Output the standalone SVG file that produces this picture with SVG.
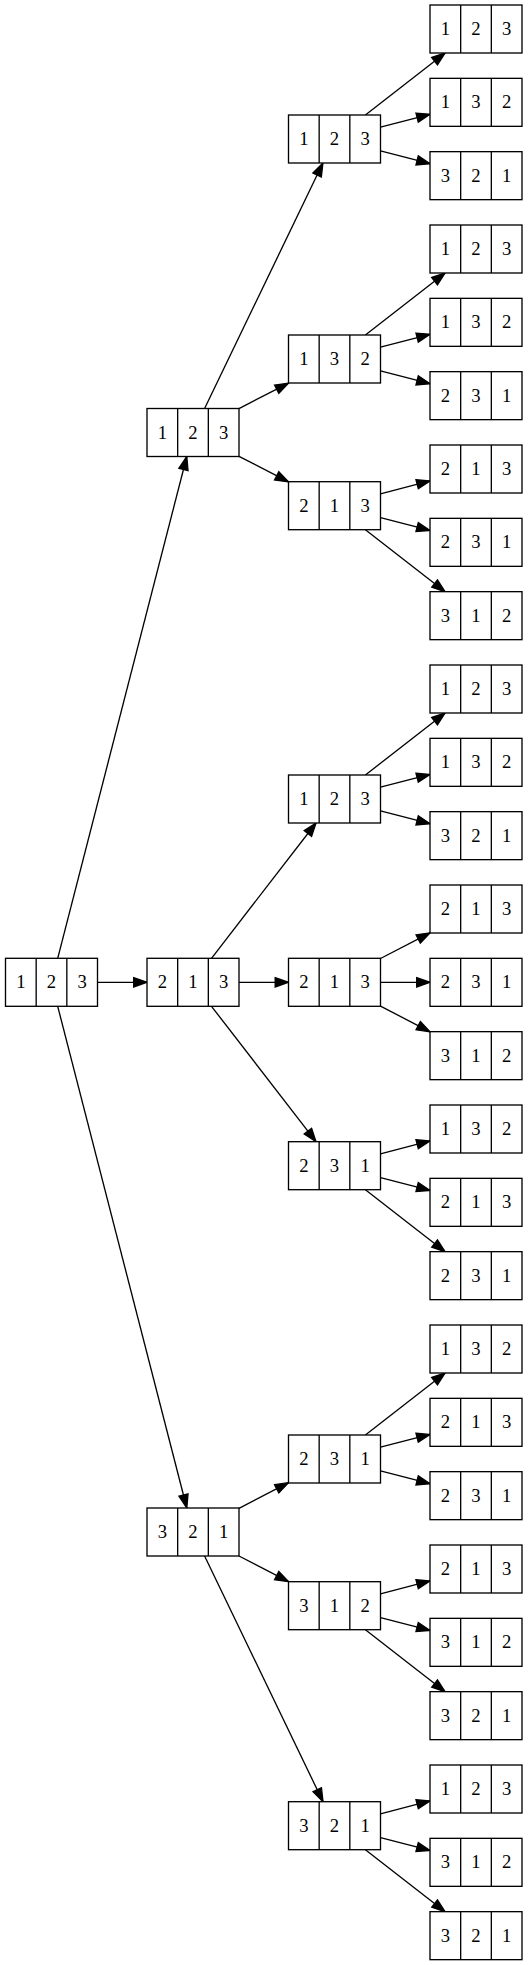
<svg xmlns="http://www.w3.org/2000/svg" width="528" height="1965" viewBox="0 0 528 1965">
<style>
.box{fill:#fff;stroke:#000;stroke-width:1.33}
.div{stroke:#000;stroke-width:1.33}
text{font-family:"Liberation Serif","Times New Roman",serif;font-size:18.67px;text-anchor:middle;fill:#000}
.e{fill:none;stroke:#000;stroke-width:1.33;marker-end:url(#ah)}
</style>
<defs>
<marker id="ah" markerUnits="userSpaceOnUse" markerWidth="16" markerHeight="12" refX="13.3" refY="5" orient="auto" overflow="visible">
<path d="M0,0.33 L13.3,5 L0,9.67 Z" fill="#000" stroke="#000" stroke-width="1.33"/>
</marker>
<g id="cell">
<rect class="box" x="0" y="0" width="92" height="48"/>
<line class="div" x1="30.67" y1="0" x2="30.67" y2="48"/>
<line class="div" x1="61.33" y1="0" x2="61.33" y2="48"/>
</g>
</defs>
<g id="edges">
<line class="e" x1="57.7" y1="958.3" x2="186.8" y2="456.5"/>
<line class="e" x1="97.5" y1="982.3" x2="147" y2="982.3"/>
<line class="e" x1="57.7" y1="1006.3" x2="186.8" y2="1508"/>
<line class="e" x1="204.6" y1="408.5" x2="322.9" y2="163"/>
<line class="e" x1="239" y1="408.6" x2="288.5" y2="383.1"/>
<line class="e" x1="239" y1="456.3" x2="288.5" y2="481.9"/>
<line class="e" x1="211.5" y1="958.3" x2="316" y2="823"/>
<line class="e" x1="239" y1="982.3" x2="288.5" y2="982.3"/>
<line class="e" x1="211.5" y1="1006.3" x2="316" y2="1141.7"/>
<line class="e" x1="239" y1="1508.3" x2="288.5" y2="1482.7"/>
<line class="e" x1="239" y1="1556" x2="288.5" y2="1581.7"/>
<line class="e" x1="204.6" y1="1556" x2="323" y2="1801.7"/>
<line class="e" x1="365.4" y1="115" x2="445.1" y2="53"/>
<line class="e" x1="380.5" y1="127.1" x2="430" y2="114.3"/>
<line class="e" x1="380.5" y1="150.9" x2="430" y2="163.7"/>
<line class="e" x1="365.4" y1="335" x2="445.1" y2="273"/>
<line class="e" x1="380.5" y1="347.1" x2="430" y2="334.3"/>
<line class="e" x1="380.5" y1="370.9" x2="430" y2="383.7"/>
<line class="e" x1="380.5" y1="493.8" x2="430" y2="480.9"/>
<line class="e" x1="380.5" y1="517.6" x2="430" y2="530.4"/>
<line class="e" x1="365.4" y1="529.7" x2="445.1" y2="591.7"/>
<line class="e" x1="365.4" y1="775" x2="445.1" y2="713"/>
<line class="e" x1="380.5" y1="787.1" x2="430" y2="774.4"/>
<line class="e" x1="380.5" y1="810.9" x2="430" y2="823.7"/>
<line class="e" x1="380.5" y1="958.5" x2="430" y2="932.8"/>
<line class="e" x1="380.5" y1="982.3" x2="430" y2="982.3"/>
<line class="e" x1="380.5" y1="1006.1" x2="430" y2="1031.8"/>
<line class="e" x1="380.5" y1="1153.8" x2="430" y2="1140.9"/>
<line class="e" x1="380.5" y1="1177.6" x2="430" y2="1190.4"/>
<line class="e" x1="365.4" y1="1189.7" x2="445.1" y2="1251.7"/>
<line class="e" x1="365.4" y1="1435" x2="445.1" y2="1373"/>
<line class="e" x1="380.5" y1="1447.1" x2="430" y2="1434.4"/>
<line class="e" x1="380.5" y1="1470.9" x2="430" y2="1483.7"/>
<line class="e" x1="380.5" y1="1593.8" x2="430" y2="1580.9"/>
<line class="e" x1="380.5" y1="1617.6" x2="430" y2="1630.4"/>
<line class="e" x1="365.4" y1="1629.7" x2="445.1" y2="1691.7"/>
<line class="e" x1="380.5" y1="1813.8" x2="430" y2="1800.9"/>
<line class="e" x1="380.5" y1="1837.6" x2="430" y2="1850.4"/>
<line class="e" x1="365.4" y1="1849.7" x2="445.1" y2="1911.7"/>
</g>
<g id="root" transform="translate(5.5,958.3)"><use href="#cell"/><text x="15.33" y="30">1</text><text x="46" y="30">2</text><text x="76.67" y="30">3</text></g>
<g id="l1a" transform="translate(147,408.5)"><use href="#cell"/><text x="15.33" y="30">1</text><text x="46" y="30">2</text><text x="76.67" y="30">3</text></g>
<g id="l1b" transform="translate(147,958.3)"><use href="#cell"/><text x="15.33" y="30">2</text><text x="46" y="30">1</text><text x="76.67" y="30">3</text></g>
<g id="l1c" transform="translate(147,1508)"><use href="#cell"/><text x="15.33" y="30">3</text><text x="46" y="30">2</text><text x="76.67" y="30">1</text></g>
<g id="l2a" transform="translate(288.5,115)"><use href="#cell"/><text x="15.33" y="30">1</text><text x="46" y="30">2</text><text x="76.67" y="30">3</text></g>
<g id="l2b" transform="translate(288.5,335)"><use href="#cell"/><text x="15.33" y="30">1</text><text x="46" y="30">3</text><text x="76.67" y="30">2</text></g>
<g id="l2c" transform="translate(288.5,481.7)"><use href="#cell"/><text x="15.33" y="30">2</text><text x="46" y="30">1</text><text x="76.67" y="30">3</text></g>
<g id="l2d" transform="translate(288.5,775)"><use href="#cell"/><text x="15.33" y="30">1</text><text x="46" y="30">2</text><text x="76.67" y="30">3</text></g>
<g id="l2e" transform="translate(288.5,958.3)"><use href="#cell"/><text x="15.33" y="30">2</text><text x="46" y="30">1</text><text x="76.67" y="30">3</text></g>
<g id="l2f" transform="translate(288.5,1141.7)"><use href="#cell"/><text x="15.33" y="30">2</text><text x="46" y="30">3</text><text x="76.67" y="30">1</text></g>
<g id="l2g" transform="translate(288.5,1435)"><use href="#cell"/><text x="15.33" y="30">2</text><text x="46" y="30">3</text><text x="76.67" y="30">1</text></g>
<g id="l2h" transform="translate(288.5,1581.7)"><use href="#cell"/><text x="15.33" y="30">3</text><text x="46" y="30">1</text><text x="76.67" y="30">2</text></g>
<g id="l2i" transform="translate(288.5,1801.7)"><use href="#cell"/><text x="15.33" y="30">3</text><text x="46" y="30">2</text><text x="76.67" y="30">1</text></g>
<g id="leaf1" transform="translate(430,5)"><use href="#cell"/><text x="15.33" y="30">1</text><text x="46" y="30">2</text><text x="76.67" y="30">3</text></g>
<g id="leaf2" transform="translate(430,78.33)"><use href="#cell"/><text x="15.33" y="30">1</text><text x="46" y="30">3</text><text x="76.67" y="30">2</text></g>
<g id="leaf3" transform="translate(430,151.66)"><use href="#cell"/><text x="15.33" y="30">3</text><text x="46" y="30">2</text><text x="76.67" y="30">1</text></g>
<g id="leaf4" transform="translate(430,225)"><use href="#cell"/><text x="15.33" y="30">1</text><text x="46" y="30">2</text><text x="76.67" y="30">3</text></g>
<g id="leaf5" transform="translate(430,298.33)"><use href="#cell"/><text x="15.33" y="30">1</text><text x="46" y="30">3</text><text x="76.67" y="30">2</text></g>
<g id="leaf6" transform="translate(430,371.66)"><use href="#cell"/><text x="15.33" y="30">2</text><text x="46" y="30">3</text><text x="76.67" y="30">1</text></g>
<g id="leaf7" transform="translate(430,445)"><use href="#cell"/><text x="15.33" y="30">2</text><text x="46" y="30">1</text><text x="76.67" y="30">3</text></g>
<g id="leaf8" transform="translate(430,518.33)"><use href="#cell"/><text x="15.33" y="30">2</text><text x="46" y="30">3</text><text x="76.67" y="30">1</text></g>
<g id="leaf9" transform="translate(430,591.66)"><use href="#cell"/><text x="15.33" y="30">3</text><text x="46" y="30">1</text><text x="76.67" y="30">2</text></g>
<g id="leaf10" transform="translate(430,665)"><use href="#cell"/><text x="15.33" y="30">1</text><text x="46" y="30">2</text><text x="76.67" y="30">3</text></g>
<g id="leaf11" transform="translate(430,738.33)"><use href="#cell"/><text x="15.33" y="30">1</text><text x="46" y="30">3</text><text x="76.67" y="30">2</text></g>
<g id="leaf12" transform="translate(430,811.66)"><use href="#cell"/><text x="15.33" y="30">3</text><text x="46" y="30">2</text><text x="76.67" y="30">1</text></g>
<g id="leaf13" transform="translate(430,885)"><use href="#cell"/><text x="15.33" y="30">2</text><text x="46" y="30">1</text><text x="76.67" y="30">3</text></g>
<g id="leaf14" transform="translate(430,958.33)"><use href="#cell"/><text x="15.33" y="30">2</text><text x="46" y="30">3</text><text x="76.67" y="30">1</text></g>
<g id="leaf15" transform="translate(430,1031.66)"><use href="#cell"/><text x="15.33" y="30">3</text><text x="46" y="30">1</text><text x="76.67" y="30">2</text></g>
<g id="leaf16" transform="translate(430,1105)"><use href="#cell"/><text x="15.33" y="30">1</text><text x="46" y="30">3</text><text x="76.67" y="30">2</text></g>
<g id="leaf17" transform="translate(430,1178.33)"><use href="#cell"/><text x="15.33" y="30">2</text><text x="46" y="30">1</text><text x="76.67" y="30">3</text></g>
<g id="leaf18" transform="translate(430,1251.66)"><use href="#cell"/><text x="15.33" y="30">2</text><text x="46" y="30">3</text><text x="76.67" y="30">1</text></g>
<g id="leaf19" transform="translate(430,1325)"><use href="#cell"/><text x="15.33" y="30">1</text><text x="46" y="30">3</text><text x="76.67" y="30">2</text></g>
<g id="leaf20" transform="translate(430,1398.33)"><use href="#cell"/><text x="15.33" y="30">2</text><text x="46" y="30">1</text><text x="76.67" y="30">3</text></g>
<g id="leaf21" transform="translate(430,1471.66)"><use href="#cell"/><text x="15.33" y="30">2</text><text x="46" y="30">3</text><text x="76.67" y="30">1</text></g>
<g id="leaf22" transform="translate(430,1545)"><use href="#cell"/><text x="15.33" y="30">2</text><text x="46" y="30">1</text><text x="76.67" y="30">3</text></g>
<g id="leaf23" transform="translate(430,1618.33)"><use href="#cell"/><text x="15.33" y="30">3</text><text x="46" y="30">1</text><text x="76.67" y="30">2</text></g>
<g id="leaf24" transform="translate(430,1691.66)"><use href="#cell"/><text x="15.33" y="30">3</text><text x="46" y="30">2</text><text x="76.67" y="30">1</text></g>
<g id="leaf25" transform="translate(430,1765)"><use href="#cell"/><text x="15.33" y="30">1</text><text x="46" y="30">2</text><text x="76.67" y="30">3</text></g>
<g id="leaf26" transform="translate(430,1838.33)"><use href="#cell"/><text x="15.33" y="30">3</text><text x="46" y="30">1</text><text x="76.67" y="30">2</text></g>
<g id="leaf27" transform="translate(430,1911.66)"><use href="#cell"/><text x="15.33" y="30">3</text><text x="46" y="30">2</text><text x="76.67" y="30">1</text></g>
</svg>
